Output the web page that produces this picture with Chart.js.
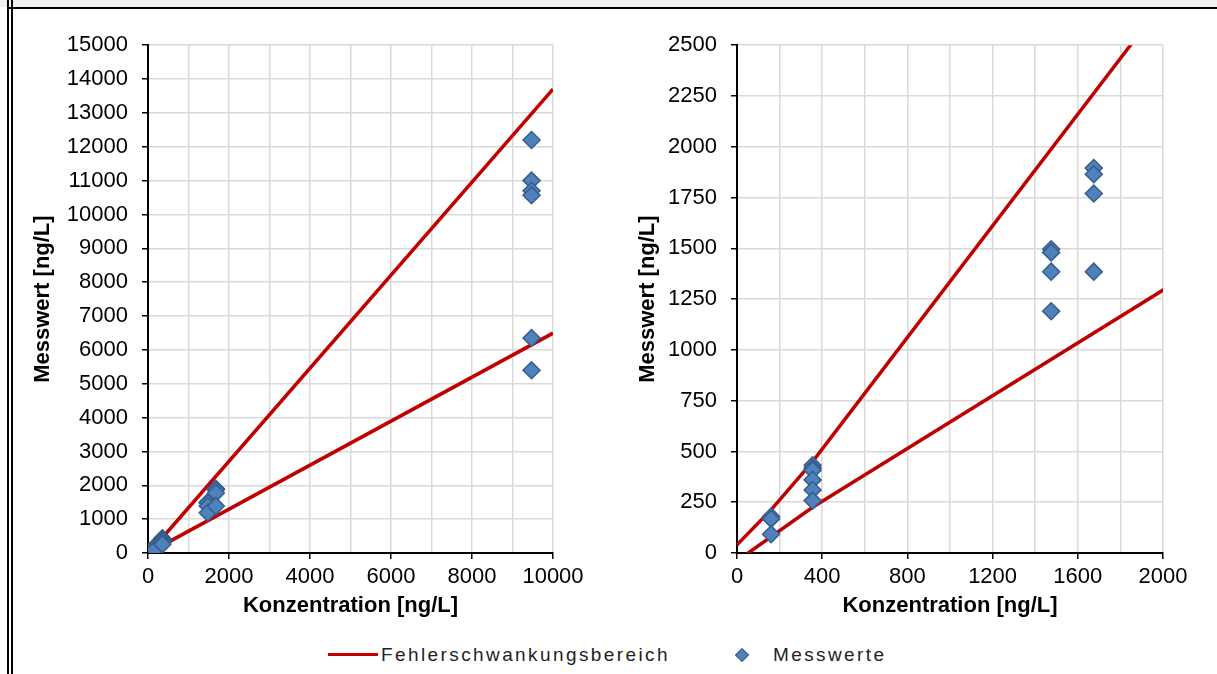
<!DOCTYPE html>
<html lang="de">
<head>
<meta charset="UTF-8">
<title>Messwerte vs. Konzentration</title>
<script src="https://cdn.jsdelivr.net/npm/chart.js@4/dist/chart.umd.min.js"></script>
<style>
  html, body { margin:0; padding:0; background:#fff; }
  body { width:1217px; height:674px; position:relative; overflow:hidden; font-family:"Liberation Sans", Arial, sans-serif; }
  .band { position:absolute; left:0; top:0; width:1217px; height:7px; background:#f0f0f0; }
  .rule { position:absolute; background:#000; }
  .box { position:absolute; top:18px; }
  .legend { position:absolute; left:0; top:643px; width:1217px; height:24px; }
  .lg-line { position:absolute; left:328px; top:10px; width:50px; height:3px; background:#c00000; }
  .lg-mark { position:absolute; left:737px; top:7px; width:8px; height:8px; background:#4f81bd; border:1px solid #385d8a; transform:rotate(45deg); }
  .lg-text { position:absolute; top:0; font-size:19px; line-height:24px; letter-spacing:2.4px; color:#222; }
</style>
</head>
<body>
<div class="band"></div>
<div class="rule" style="left:7px;top:7px;width:1210px;height:2px"></div>
<div class="rule" style="left:7px;top:0;width:2px;height:674px"></div>
<div class="rule" style="left:11px;top:0;width:2px;height:674px"></div>

<div class="box" style="left:20px"><canvas id="chart-left" width="575" height="607"></canvas></div>
<div class="box" style="left:600px"><canvas id="chart-right" width="610" height="607"></canvas></div>

<div class="legend">
  <span class="lg-line"></span><span class="lg-text" style="left:381px">Fehlerschwankungsbereich</span>
  <span class="lg-mark"></span><span class="lg-text" style="left:773px">Messwerte</span>
</div>

<script>
// Messpunkte (gleiche Daten in beiden Diagrammen)
const konzentration = [160, 160, 160, 355, 355, 355, 355, 355, 355,
                       1475, 1475, 1475, 1475, 1675, 1675, 1675, 1675,
                       9470, 9470, 9470, 9470, 9470, 9470];
const messwerte     = [180, 168, 92, 432, 418, 408, 360, 310, 258,
                       1495, 1480, 1385, 1190, 1895, 1865, 1770, 1385,
                       12200, 11000, 10700, 10570, 6350, 5400];

// Grenzen des Fehlerschwankungsbereichs (Stützstellen, gerade verbunden)
const grenzeObenX   = [0, 160, 355, 10000];
const grenzeOben    = [40, 212, 450, 13700];
const grenzeUntenX  = [0, 355, 10000];
const grenzeUnten   = [-39, 225, 6494];

// Achsen
const xLinksMax = 10000,  xLinksGitter = 1000, xLinksBeschriftung = 2000;
const yLinksMax = 15000,  yLinksSchritt = 1000;
const xRechtsMax = 2000,  xRechtsGitter = 200,  xRechtsBeschriftung = 400;
const yRechtsMax = 2500,  yRechtsSchritt = 250;

const xTitel = 'Konzentration [ng/L]';
const yTitel = 'Messwert [ng/L]';

Chart.defaults.devicePixelRatio = 1;
Chart.defaults.animation = false;

const fontFamily = "'Liberation Sans', Arial, sans-serif";
const tickFont  = { family: fontFamily, size: 22 };
const titleFont = { family: fontFamily, size: 22, weight: 'bold' };

const toPoints = (xs, ys) => xs.map((x, i) => ({ x: x, y: ys[i] }));

function grenzeDataset(points) {
  return {
    data: points, showLine: true, tension: 0,
    borderColor: '#c00000', borderWidth: 3.5,
    pointRadius: 0, pointHoverRadius: 0, clip: 0, order: 1
  };
}

function buildChart(id, o) {
  return new Chart(document.getElementById(id), {
    type: 'scatter',
    data: {
      datasets: [
        {
          label: 'Messwerte',
          data: toPoints(konzentration, messwerte),
          pointStyle: 'rectRot', pointRadius: 8.5, pointHoverRadius: 8.5,
          backgroundColor: '#4f81bd', borderColor: '#385d8a', borderWidth: 1.5,
          clip: 0, order: 0
        },
        grenzeDataset(toPoints(grenzeObenX, grenzeOben)),
        grenzeDataset(toPoints(grenzeUntenX, grenzeUnten))
      ]
    },
    options: {
      responsive: false,
      events: [],
      // oben: Platz kommt aus dem Label-Padding der y-Achse
      layout: { padding: { top: 0, right: o.padRight, bottom: 0, left: 0 } },
      plugins: { legend: { display: false }, tooltip: { enabled: false } },
      scales: {
        x: {
          type: 'linear', min: 0, max: o.xMax,
          afterFit: s => { s.height = 72; },
          border: { color: '#000', width: 2 },
          grid: {
            color: c => c.tick && c.tick.value === 0 ? 'rgba(0,0,0,0)' : '#d9d9d9',
            lineWidth: 1.5, tickLength: 6,
            tickColor: c => c.tick && c.tick.value % o.xLabel === 0 ? '#000' : 'rgba(0,0,0,0)'
          },
          ticks: {
            stepSize: o.xGrid, autoSkip: false, maxRotation: 0, padding: 5,
            color: '#000', font: tickFont,
            callback: v => v % o.xLabel === 0 ? String(v) : ''
          },
          title: { display: true, text: xTitel, color: '#000', font: titleFont, padding: { top: 0, bottom: 6 } }
        },
        y: {
          type: 'linear', min: 0, max: o.yMax,
          afterFit: s => { s.width = o.yWidth; },
          border: { color: '#000', width: 2 },
          grid: {
            color: c => c.tick && c.tick.value === 0 ? 'rgba(0,0,0,0)' : '#d9d9d9',
            lineWidth: 1.5, tickLength: 6, tickColor: '#000'
          },
          ticks: {
            stepSize: o.yStep, autoSkip: false, padding: 14,
            color: '#000', font: tickFont,
            callback: v => String(v)
          },
          title: { display: true, text: yTitel, color: '#000', font: titleFont, padding: { top: o.titlePad, bottom: 0 } }
        }
      }
    }
  });
}

buildChart('chart-left', {
  xMax: xLinksMax, xGrid: xLinksGitter, xLabel: xLinksBeschriftung,
  yMax: yLinksMax, yStep: yLinksSchritt,
  yWidth: 128, padRight: 42, titlePad: 10
});

buildChart('chart-right', {
  xMax: xRechtsMax, xGrid: xRechtsGitter, xLabel: xRechtsBeschriftung,
  yMax: yRechtsMax, yStep: yRechtsSchritt,
  yWidth: 137, padRight: 47, titlePad: 35
});
</script>
</body>
</html>
